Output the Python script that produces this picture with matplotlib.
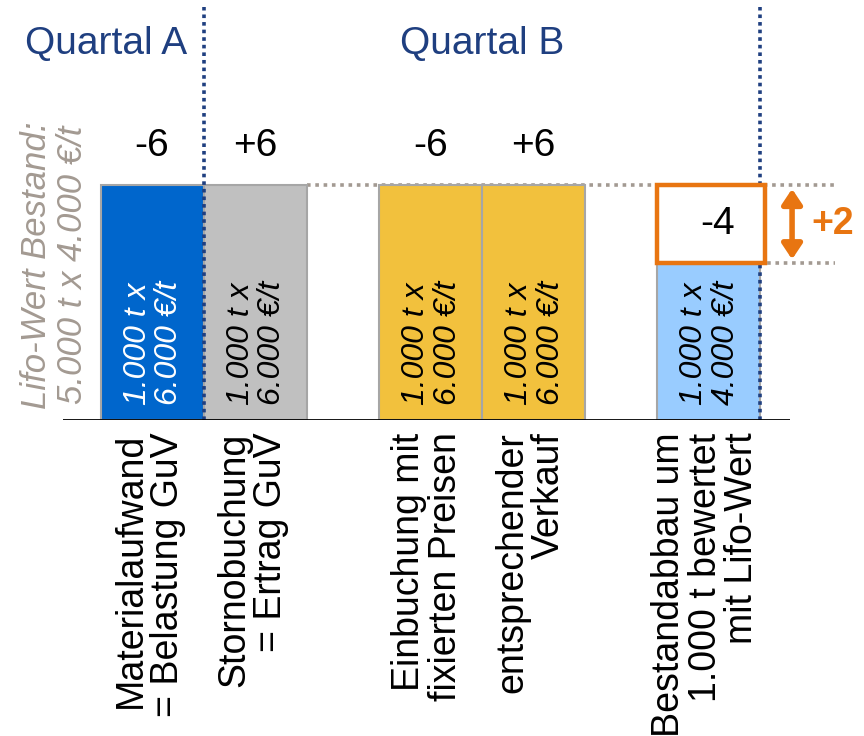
import numpy as np
import matplotlib
matplotlib.use("Agg")
import matplotlib.pyplot as plt
from matplotlib.patches import Rectangle

plt.rcParams['font.family'] = ['Liberation Sans', 'DejaVu Sans']

# bookings in T€ (1.000 t x price)
werte = [6, 6, 6, 6, 4]
vorzeichen = ["-6", "+6", "-6", "+6", None]
mengen = ["1.000 t x\n6.000 €/t", "1.000 t x\n6.000 €/t", "1.000 t x\n6.000 €/t",
          "1.000 t x\n6.000 €/t", "1.000 t x\n4.000 €/t"]
kategorien = ["Materialaufwand\n= Belastung GuV", "Stornobuchung\n= Ertrag GuV",
              "Einbuchung mit\nfixierten Preisen", "entsprechender\nVerkauf",
              "Bestandabbau um\n1.000 t bewertet\nmit Lifo-Wert"]
lifo_wert = 6      # Lifo-Wert Bestand level
lifo_neu = 4       # value of the stock reduction
differenz = lifo_wert - lifo_neu

pos = np.array([0, 1, 2.7, 3.7, 5.4])
farben = ["#0066CC", "#C0C0C0", "#F2C13D", "#F2C13D", "#99CCFF"]
textfarben = ["white", "black", "black", "black", "black"]
orange = "#E87511"
dunkelblau = "#1F3F80"
grau = "#A39A92"

fig = plt.figure(figsize=(8.64, 7.36), dpi=100)
ax = fig.add_axes([63 / 864, 1 - 420 / 736, 727 / 864, 420 / 736])
ax.set_xlim(-0.864, 6.19)
ax.set_ylim(0, 10.72)
ax.axis("off")
ax.axhline(0, color="black", lw=2, zorder=5)

# dotted reference lines at the Lifo level
punkt = (0, (1, 1.3))
ax.plot([1.5, 6.63], [lifo_wert, lifo_wert], ls=punkt, color=grau, lw=2.6, zorder=1,
        clip_on=False)
ax.plot([5.4, 6.63], [lifo_neu, lifo_neu], ls=punkt, color=grau, lw=2.6, zorder=1,
        clip_on=False)

ax.bar(pos, werte, width=1.0, color=farben, edgecolor="#A6A6A6", lw=1.5, zorder=2)

for x, w, m, tc in zip(pos, werte, mengen, textfarben):
    ax.annotate(m, (x, 0), xytext=(1, 11), textcoords="offset points", rotation=90,
                ha="center", va="bottom", multialignment="left", style="italic",
                fontsize=23, color=tc, linespacing=1.08, zorder=4)

for x, w, v in zip(pos, werte, vorzeichen):
    if v:
        ax.annotate(v, (x, w), xytext=(0, 28), textcoords="offset points",
                    ha="center", va="center", fontsize=28)

for x, k in zip(pos, kategorien):
    ax.annotate(k, (x, 0), xytext=(-2, -9), textcoords="offset points", rotation=90,
                ha="center", va="top", multialignment="right", fontsize=27,
                linespacing=1.02, annotation_clip=False)

# quarter separators
for xs in [0.5, 5.9]:
    ax.plot([xs, xs], [0, 10.55], ls=(0, (1, 1.1)), color=dunkelblau, lw=2.6, zorder=3,
            clip_on=False)

ax.text(-0.45, 9.6, "Quartal A", ha="center", va="center", fontsize=28, color=dunkelblau)
ax.text(3.2, 9.6, "Quartal B", ha="center", va="center", fontsize=28, color=dunkelblau)

ax.text(-0.95, 3.96, "Lifo-Wert Bestand:\n5.000 t x 4.000 €/t", rotation=90, ha="center",
        va="center", style="italic", fontsize=25, color=grau, linespacing=1.12, clip_on=False)

# box showing the lower valuation
box = Rectangle((4.9, lifo_neu), 1.05, differenz, facecolor="white", edgecolor=orange,
                lw=3.2, zorder=4)
ax.add_patch(box)
ax.text(4.9 + 1.05 / 2 + 0.06, lifo_neu + differenz / 2, "-%d" % lifo_neu, ha="center",
        va="center", fontsize=28, zorder=5)

ax.annotate("", xy=(6.21, lifo_wert - 0.1), xytext=(6.21, lifo_neu + 0.1),
            arrowprops=dict(arrowstyle="<|-|>,head_length=0.9,head_width=0.6",
                            color=orange, lw=4, shrinkA=0, shrinkB=0), annotation_clip=False)
ax.text(6.4, lifo_neu + differenz / 2, "+%d" % differenz, ha="left", va="center",
        fontsize=27, fontweight="bold", color=orange, clip_on=False)

fig.savefig("out.png", dpi=100)
